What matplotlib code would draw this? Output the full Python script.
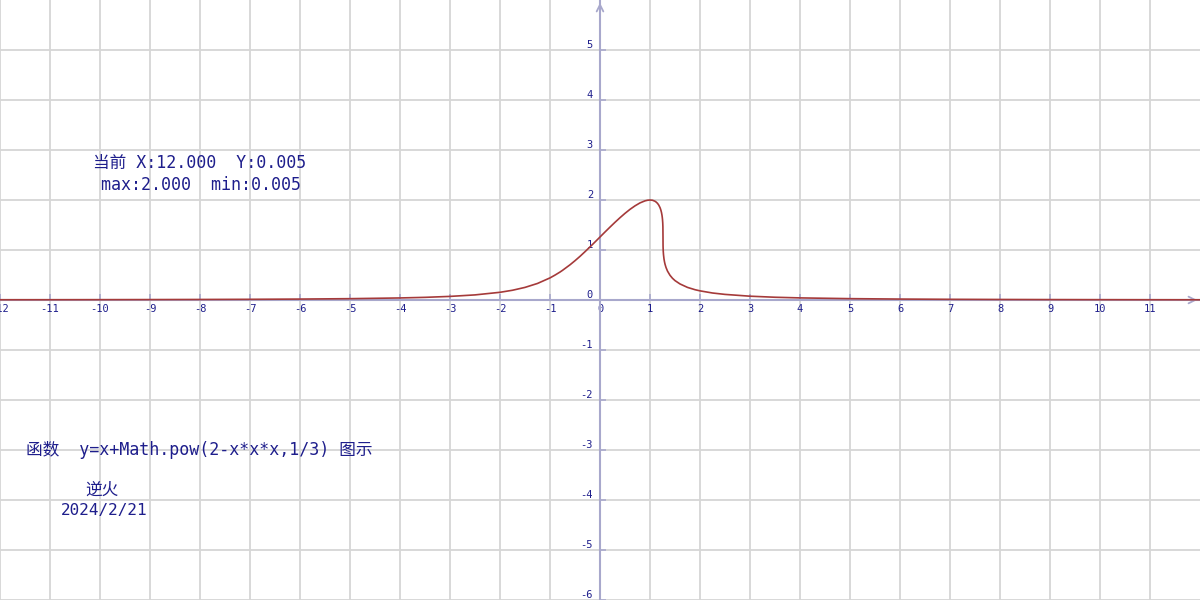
import matplotlib
matplotlib.use('Agg')
import matplotlib.pyplot as plt

# curve samples
curve_x = [-12, -11, -10, -9, -8, -7, -6, -5, -4, -3.5, -3, -2.5, -2, -1.75, -1.5,
           -1.25, -1, -0.9, -0.8, -0.75, -0.6, -0.5, -0.4, -0.3, -0.2, -0.1, 0,
           0.1, 0.2, 0.3, 0.4, 0.5, 0.6, 0.7, 0.8, 0.9, 0.95, 1.0, 1.05, 1.1,
           1.125, 1.15, 1.175, 1.2, 1.21, 1.22, 1.23, 1.24, 1.245, 1.25, 1.255,
           1.258, 1.26, 1.261, 1.262, 1.265, 1.27, 1.28, 1.29, 1.3, 1.32, 1.35,
           1.4, 1.45, 1.5, 1.6, 1.75, 1.9, 2, 2.25, 2.5, 3, 3.5, 4, 5, 6, 7, 8,
           9, 10, 11, 12]
curve_y = [0.005, 0.0055, 0.0067, 0.0082, 0.0104, 0.0136, 0.0185, 0.0266, 0.041,
           0.053, 0.072, 0.102, 0.154, 0.195, 0.252, 0.331, 0.442, 0.498, 0.559,
           0.593, 0.704, 0.786, 0.873, 0.966, 1.062, 1.16, 1.26, 1.36, 1.458,
           1.554, 1.646, 1.733, 1.813, 1.883, 1.942, 1.983, 1.995, 2.0, 1.995,
           1.975, 1.957, 1.933, 1.898, 1.848, 1.821, 1.789, 1.748, 1.694, 1.657,
           1.611, 1.541, 1.467, 1.26, 1.088, 1.047, 0.975, 0.906, 0.82, 0.763,
           0.718, 0.651, 0.578, 0.494, 0.434, 0.388, 0.321, 0.252, 0.206, 0.183,
           0.14, 0.112, 0.076, 0.055, 0.042, 0.027, 0.0186, 0.0136, 0.0104,
           0.0082, 0.0067, 0.0055, 0.0046]

x_ticks = list(range(-12, 12))
y_ticks = list(range(-6, 6))

axis_color = '#a8a8cc'
text_color = '#1e1e8c'
grid_color = '#d6d6d6'
curve_color = '#a53a3a'
mono = ['DejaVu Sans Mono', 'Noto Sans CJK SC']

plt.rcParams['axes.unicode_minus'] = False

fig = plt.figure(figsize=(12, 6), dpi=100, facecolor='white')
ax = fig.add_axes([0, 0, 1, 1])
ax.set_xlim(-12, 12)
ax.set_ylim(-6, 6)

# axes through the origin
for side in ['top', 'right']:
    ax.spines[side].set_visible(False)
ax.spines['left'].set_position(('data', 0))
ax.spines['bottom'].set_position(('data', 0))
for side in ['left', 'bottom']:
    ax.spines[side].set_color(axis_color)
    ax.spines[side].set_linewidth(1.5)

ax.set_xticks(x_ticks)
ax.set_yticks(y_ticks)
ax.tick_params(direction='in', length=4, width=1.2, color=axis_color,
               labelcolor=text_color, labelsize=7.5)
ax.tick_params(axis='x', pad=3)
ax.tick_params(axis='y', pad=5)
for lab in ax.get_xticklabels() + ax.get_yticklabels():
    lab.set_family('DejaVu Sans Mono')
for lab in ax.get_yticklabels():
    lab.set_va('bottom')

ax.grid(True, color=grid_color, linewidth=1.3)
ax.set_axisbelow(True)

# arrow heads
ax.annotate('', xy=(0, 6), xytext=(0, 5.5),
            arrowprops=dict(arrowstyle='->', color=axis_color, lw=1.3,
                            mutation_scale=12))
ax.annotate('', xy=(12, 0), xytext=(11.5, 0),
            arrowprops=dict(arrowstyle='->', color=axis_color, lw=1.3,
                            mutation_scale=12))

ax.plot(curve_x, curve_y, color=curve_color, linewidth=1.2, zorder=5,
        clip_on=False)

# labels
def px(x, y):
    return (x - 600) / 50, (300 - y) / 50

ax.text(*px(93, 163), '当前 X:12.000  Y:0.005', family=mono, fontsize=12,
        color=text_color, va='center', ha='left')
ax.text(*px(101, 185), 'max:2.000  min:0.005', family=mono, fontsize=12,
        color=text_color, va='center', ha='left')
ax.text(*px(26, 450), '函数  y=x+Math.pow(2-x*x*x,1/3) 图示', family=mono,
        fontsize=12, color=text_color, va='center', ha='left')
ax.text(*px(85, 490), '逆火', family=mono, fontsize=12,
        color=text_color, va='center', ha='left')
ax.text(*px(61, 511), '2024/2/21', family=mono, fontsize=11.5,
        color=text_color, va='center', ha='left')

fig.savefig('out.png', dpi=100, facecolor='white')
